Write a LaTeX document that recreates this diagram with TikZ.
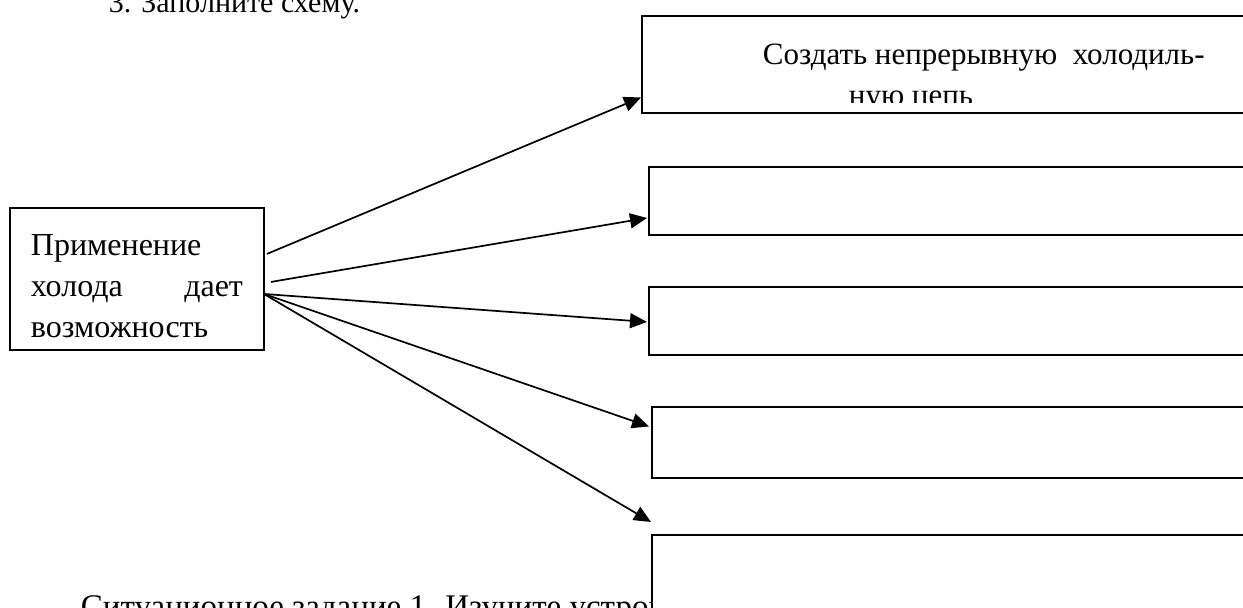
\documentclass[tikz,border=0pt]{standalone}
\usepackage{fontspec}
\setmainfont{Liberation Serif}
\usetikzlibrary{arrows.meta, positioning, calc}

\begin{document}
\begin{tikzpicture}[x=1pt, y=-1pt, line width=1.9pt,
    answerbox/.style={draw, fill=white, anchor=north west, minimum width=620pt, inner sep=0pt},
    txt/.style={anchor=base west, inner sep=0pt, font=\fontsize{32}{41}\selectfont},
    arr/.style={-{Triangle[length=17pt, width=15pt]}, line width=1.7pt}]

    \useasboundingbox (0,0) rectangle (1243,608);
    \clip (0,0) rectangle (1243,608);

    % page text above and below the scheme
    \node[txt, font=\fontsize{30}{36}\selectfont] (head) at (108,12) {3. Заполните схему.};
    \node[txt, font=\fontsize{33}{40}\selectfont] (next) at (80,617) {Ситуационное задание 1. Изучите устройство};

    % left box
    \node[draw, anchor=north west, minimum width=254pt, minimum height=142pt, inner sep=0pt] (src) at (9,207) {};
    \node[txt, text width=212pt, align=left] (srctxt) at (30,255) {Применение\\холода\hfill дает\\возможность};

    % boxes to fill in
    \node[answerbox, minimum height=97pt] (b1) at (641,15) {};
    \node[answerbox, minimum height=68pt] (b2) at (648,166) {};
    \node[answerbox, minimum height=68pt] (b3) at (648,286) {};
    \node[answerbox, minimum height=71pt] (b4) at (651,406) {};
    \node[answerbox, minimum height=100pt] (b5) at (651,534) {};

    \node[txt, font=\fontsize{31}{40}\selectfont] (b1top) at (762,64) {Создать непрерывную~~холодиль-};
    \begin{scope}
        \clip (641,15) rectangle (1243,102);
        \node[txt, font=\fontsize{31}{40}\selectfont] (b1bot) at (848,105) {ную цепь};
    \end{scope}

    % arrows
    \coordinate (s1) at ([shift={(2,-25)}]src.east);
    \coordinate (s2) at ([shift={(6,3)}]src.east);
    \coordinate (s3) at ([shift={(-1,15)}]src.east);
    \coordinate (e5) at ([shift={(0,-12)}]b5.north west);
    \draw[arr] (s1) -- ([shift={(0,33)}]b1.west);
    \draw[arr] (s2) -- ([shift={(-1,17)}]b2.west);
    \draw[arr] (s3) -- ([shift={(-1,1)}]b3.west);
    \draw[arr] (s3) -- ([shift={(-2,-16)}]b4.west);
    \draw[arr] (s3) -- (e5);
\end{tikzpicture}
\end{document}
